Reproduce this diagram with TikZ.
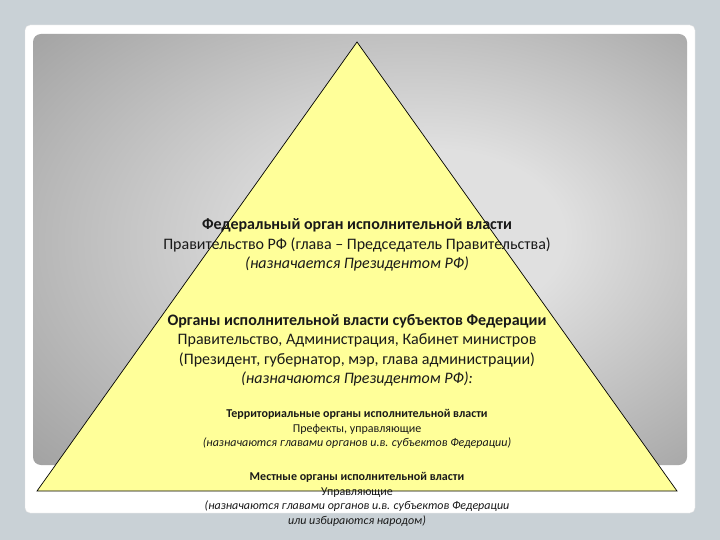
\documentclass[tikz,border=0pt]{standalone}
\usepackage{fontspec}
\setmainfont{Carlito}
\usepackage{xcolor}

\definecolor{pagebg}{RGB}{201,209,214}
\definecolor{pyramid}{RGB}{255,255,153}
\definecolor{panellight}{RGB}{224,224,224}
\definecolor{paneldark}{RGB}{160,160,160}
\pgfdeclareradialshading{panelshade}{\pgfpoint{7bp}{2bp}}{color(0bp)=(panellight); color(10bp)=(panellight); color(38bp)=(paneldark); color(50bp)=(paneldark)}

\begin{document}
\begin{tikzpicture}[x=1pt, y=-1pt, head text/.style={font=\fontsize{16}{19.5}\selectfont, align=center, text=black!90, inner sep=0pt}, low text/.style={font=\fontsize{12}{14.5}\selectfont, align=center, text=black!90, inner sep=0pt}]
                \fill[pagebg] (0,0) rectangle (720,540);
                \useasboundingbox (0,0) rectangle (720,540);
                \fill[white, draw=black!12, rounded corners=5pt] (25,25) rectangle (695,513);
                \shade[shading=panelshade, rounded corners=8pt] (33,34) rectangle (687,465);

                \coordinate (top) at (357,42);
                \coordinate (left) at (37,491);
                \coordinate (right) at (677,491);
                \filldraw[fill=pyramid, draw=black, line width=0.7pt] (left) -- (top) -- (right) -- cycle;

                \node[head text] (fed) at (357,245) {\textbf{Федеральный орган исполнительной власти}\\Правительство РФ (глава – Председатель Правительства)\\\textit{(назначается Президентом РФ)}};
                \node[head text] (subj) at (357,350.5) {\textbf{Органы исполнительной власти субъектов Федерации}\\Правительство, Администрация, Кабинет министров\\(Президент, губернатор, мэр, глава администрации)\\\textit{(назначаются Президентом РФ):}};
                \node[low text] (terr) at (357,429) {\textbf{Территориальные органы исполнительной власти}\\Префекты, управляющие\\\textit{(назначаются главами органов и.в. субъектов Федерации)}};
                \node[low text] (local) at (357,499.5) {\textbf{Местные органы исполнительной власти}\\Управляющие\\\textit{(назначаются главами органов и.в. субъектов Федерации}\\\textit{или избираются народом)}};
            \end{tikzpicture}
\end{document}
